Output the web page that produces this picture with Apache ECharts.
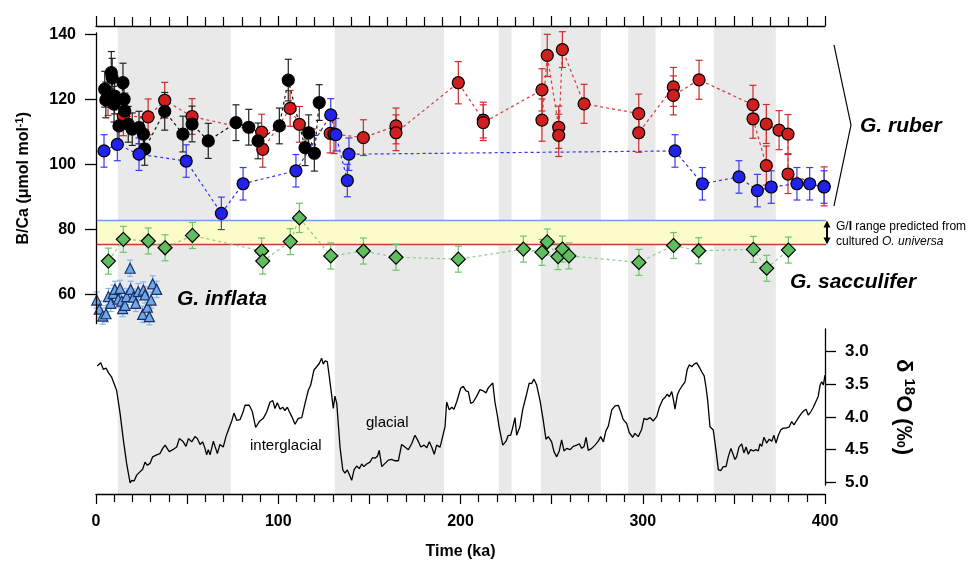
<!DOCTYPE html>
<html><head><meta charset="utf-8">
<script src="https://cdn.jsdelivr.net/npm/echarts@6/dist/echarts.min.js"></script>
<style>html,body{margin:0;padding:0;background:#fff}#c{width:972px;height:565px}</style>
</head><body><div id="c"></div>
<script>
// ---------- tick labels ----------
const timeTicks = [0, 100, 200, 300, 400];
const bcaTicks = [60, 80, 100, 120, 140];
const d18oTicks = [3.0, 3.5, 4.0, 4.5, 5.0];

// ---------- glacial intervals (ka) ----------
const glacialBands = [[12, 74], [131, 191], [221, 228], [244, 277], [292, 307], [339, 373]];
// G/I range predicted from cultured O. universa (B/Ca)
const giRange = [75.3, 82.7];

// ---------- B/Ca series: [age ka, B/Ca, error] ----------
const rubBlack = [[4.8,123.1,5.5],[5.4,119.8,5.5],[8.4,128.2,6.5],[8.9,126.6,6],[9.9,118.5,5.5],[10.2,121,5.5],[12.6,111.8,5.5],[14.8,125.1,6],[15.4,120,5.5],[15.8,116.4,5.5],[17.7,112.3,5.5],[19.9,110.8,5],[23.6,111.3,5],[26,109.3,5],[26.7,104.7,5],[37.7,116.3,5.8],[47.7,109.3,5.5],[52.7,112.4,5.5],[61.6,107.2,5.4],[76.8,112.8,5.5],[83.8,111.4,5.5],[88.9,107.2,5.5],[100.6,111.8,5.5],[105.5,125.9,6.4],[114.7,105.1,5.5],[116.7,109.7,5.5],[119.8,103.4,5.5],[122.5,119,5.5]];
const rubRed = [[6.6,121,6],[15,114.8,6],[28.6,114.6,5.5],[37.7,119.7,5.5],[52.7,114.7,5.5],[90.9,109.9,5.5],[91.5,104.6,5.5],[106.5,117.2,5.5],[111.6,112.3,5.5],[128.5,109.5,6],[130.6,109.3,6],[146.7,108.2,5.5],[164.6,111.8,5.5],[164.6,109.7,5.5],[198.8,125.1,6.5],[212.5,113.6,5.5],[212.5,112.8,5.5],[244.7,122.9,6.5],[244.7,113.6,6.5],[247.6,133.5,6.5],[253.9,111.4,6.5],[253.9,108.9,6.5],[255.9,135.3,5.5],[267.8,118.6,6],[297.8,115.6,6],[297.8,109.7,6],[316.8,123.8,6],[316.8,121.2,6],[330.9,126,6],[360.5,118.3,6],[360.5,114,6],[367.8,99.6,6],[367.8,112.4,6],[374.8,110.5,6],[379.7,109.3,6],[379.7,97,6],[399.5,93.2,6]];
const rubBlue = [[4.4,104.1,5],[11.7,106.1,5],[23.6,103.1,5],[49.5,101,5],[68.8,84.9,5],[80.7,94,5],[109.7,98,5],[128.8,115.2,5],[131.6,109.1,5],[137.9,95,5],[138.8,103.1,5],[317.7,104.1,5],[332.7,94,5],[352.8,96.1,5],[362.9,91.9,5],[370.5,93,5],[384.6,94,5],[391.6,94,5],[399.5,93,5]];
const sacculifer = [[6.8,70.2,4],[15,76.9,4],[28.7,76.4,4],[37.9,74.3,4],[52.9,78.1,4],[90.9,73.3,4],[91.5,70.2,4],[106.6,76.2,4],[111.6,83.5,4.5],[128.8,71.8,4],[146.7,73.3,4],[164.6,71.4,4],[198.8,70.8,4],[234.5,73.9,4],[244.7,72.9,4],[247.6,76.1,4],[253.5,71.6,4],[255.9,73.9,4],[259.5,71.8,4],[297.9,69.8,4],[316.9,75,4],[330.7,73.4,4],[360.7,73.8,4],[368,68,4],[379.9,73.6,4]];
const inflata = [[0.4,58.2,2.5],[1.8,55.4,2.5],[3.7,53.3,2.5],[5.5,54,2.5],[6.8,59.3,2.5],[8.1,57.2,2.5],[9.5,60.3,2.5],[10.4,61.5,2.5],[12.2,58.5,2.5],[13.2,61.8,2.5],[14.1,57.9,2.5],[14.6,55.6,2.5],[15.9,56.6,2.5],[16.8,59.3,2.5],[18.7,68,2.5],[19,61.5,2.5],[20.5,59.1,2.5],[21.8,57.2,2.5],[23.2,60.8,2.5],[25.6,53.8,2.5],[26,61.3,2.5],[26.9,59.8,2.5],[28.2,56,2.5],[29.3,53.1,2.5],[30.2,58.2,2.5],[31.1,63.2,2.5],[33.3,61.5,2.5]];

// ---------- benthic d18O stack ----------
const d18oAge = [0.7,2.6,4,5.5,6.8,8.6,9.5,11.3,13.2,15,16.8,18.7,19.6,20.9,22.3,24.1,25.6,26.9,28.2,29.6,31.1,33.3,35.1,36.6,37.9,38.8,40.2,42.1,44.3,45.7,47.6,49.4,50.7,52.5,54.3,55.6,57.1,58.5,59.8,60.7,61.6,62.6,64.4,65.3,66.6,68,69.8,71.3,72.6,73.5,74.4,75.7,77.2,79,80.5,81.8,84.1,85.8,87.6,89.6,91.8,93.7,95.5,97,98.2,99.5,101,102.4,103.7,105,106.1,107.4,109.2,111,112.9,114.7,116.5,117.8,119.6,121.1,122.5,123.8,124.7,125.7,126.9,128,129.3,130.2,131.1,132.1,133.9,135.4,136.6,137.9,139,140.3,141.6,143,144.5,145.8,147,148.5,150.3,151.8,153.1,154.4,155.4,156.8,158.6,160.4,162.2,164.1,165.9,167.7,169.5,171.4,173.2,175,176.8,178.2,180,181.5,182.9,184.2,185.6,186.9,188.8,190.2,191.5,192.4,193.8,195.2,196.4,197.9,198.8,200.1,201.5,203,204.3,205.6,207,208.9,210.7,212.5,214,215.3,217.7,218.9,220.2,221.3,223.2,225,226.2,227.5,228.6,229.9,230.8,232.6,234.1,235.9,237.7,239,240.3,241.8,243.6,245.4,246.9,248.2,250,251.3,252.8,254.2,255.5,256.8,258.3,260.1,261.9,263.8,265.2,266.5,267.8,268.9,270.1,272,273.8,275.6,276.9,278.4,279.8,281.1,283,284.8,286.6,287.9,289.3,291.2,292.6,294.5,295.7,297.5,299.4,300.7,302.2,304,305.8,307.7,309.1,311,312.2,313.5,314.6,315.9,316.8,317.7,319,320.1,321.9,323.2,324.4,325.6,326.9,328.2,329.6,331.1,332.4,333.7,334.7,335.6,336.9,337.8,338.7,340.2,341.5,342.8,344.2,345.7,346.9,348.4,349.4,350.6,351.5,352.8,354.3,355.5,356.7,357.9,359.2,360.7,362.1,363.4,364.3,365.3,366.5,368,369.4,370.8,372,373.1,374.4,375.7,377.1,378.6,380.4,381.7,383,384.5,385.9,387.2,388.5,389.6,390.8,392.2,393.6,394.5,395.4,396.3,397.3,398.2,399.1,400];
const d18oVal = [3.22,3.17,3.27,3.25,3.32,3.39,3.37,3.59,3.94,4.35,4.71,5.01,4.97,4.98,4.89,4.84,4.80,4.69,4.74,4.71,4.61,4.58,4.56,4.48,4.43,4.42,4.53,4.50,4.46,4.33,4.37,4.45,4.33,4.38,4.30,4.33,4.42,4.38,4.48,4.58,4.50,4.58,4.37,4.45,4.56,4.42,4.46,4.30,4.20,4.21,4.07,3.94,4.05,4.04,3.94,3.82,3.82,3.92,4.16,4.07,4.02,3.92,3.77,3.75,3.87,3.78,3.88,3.85,3.90,3.85,3.92,3.99,4.11,4.02,4.01,3.79,3.59,3.51,3.28,3.23,3.18,3.10,3.19,3.14,3.15,3.38,3.66,3.87,3.68,3.79,4.46,4.81,4.86,4.81,4.88,4.97,4.81,4.75,4.79,4.72,4.76,4.72,4.69,4.62,4.63,4.60,4.51,4.76,4.71,4.66,4.65,4.67,4.67,4.42,4.46,4.50,4.41,4.28,4.37,4.46,4.43,4.47,4.38,4.46,4.57,4.43,4.46,4.30,4.15,3.77,3.89,3.85,3.88,3.77,3.79,3.56,3.53,3.60,3.61,3.79,3.77,3.68,3.58,3.60,3.63,3.55,3.48,3.77,3.97,4.17,4.43,4.37,4.28,4.28,4.17,4.01,4.28,4.15,3.89,3.69,3.48,3.49,3.42,3.51,3.74,4.05,4.34,4.30,4.38,4.53,4.61,4.52,4.35,4.52,4.48,4.50,4.45,4.43,4.41,4.48,4.45,4.31,4.51,4.48,4.43,4.37,4.30,4.38,4.21,4.14,3.89,3.83,3.82,3.92,4.04,4.10,4.24,4.31,4.25,4.30,4.19,4.02,4.04,4.01,4.06,3.99,3.85,3.73,3.70,3.65,3.69,3.61,3.73,3.88,3.66,3.59,3.51,3.46,3.27,3.20,3.23,3.19,3.17,3.24,3.31,3.37,3.54,3.74,4.15,4.17,4.20,4.51,4.81,4.82,4.76,4.76,4.61,4.48,4.56,4.65,4.61,4.46,4.41,4.55,4.46,4.57,4.50,4.52,4.50,4.52,4.41,4.45,4.31,4.40,4.34,4.37,4.28,4.40,4.28,4.20,4.17,4.17,4.15,4.07,4.12,4.05,3.99,3.94,3.90,3.88,3.97,3.92,3.85,3.88,3.74,3.68,3.51,3.46,3.51,3.36];

// ---------- chart ----------
const FONT = '"Liberation Sans", Arial, Helvetica, sans-serif';
const L = 96, R = 147;
const chart = echarts.init(document.getElementById('c'), null, {renderer: 'canvas'});

function errSeries(data, color, cap, z) {
  return {
    type: 'custom', xAxisIndex: 2, yAxisIndex: 1, z: z, clip: false, silent: true,
    data: data, encode: {x: 0, y: 1},
    renderItem: function (p, api) {
      const x = api.value(0), y = api.value(1), e = api.value(2);
      const t = api.coord([x, y + e]), b = api.coord([x, y - e]);
      const h = cap / 2, st = {stroke: color, lineWidth: 1.2};
      return {type: 'group', children: [
        {type: 'line', shape: {x1: t[0], y1: t[1], x2: b[0], y2: b[1]}, style: st},
        {type: 'line', shape: {x1: t[0] - h, y1: t[1], x2: t[0] + h, y2: t[1]}, style: st},
        {type: 'line', shape: {x1: b[0] - h, y1: b[1], x2: b[0] + h, y2: b[1]}, style: st}
      ]};
    }
  };
}
function lineSeries(data, color, z) {
  return {type: 'line', xAxisIndex: 2, yAxisIndex: 1, data: data.map(d => [d[0], d[1]]),
    symbol: 'none', lineStyle: {color: color, width: 1.2, type: [3, 3]}, z: z, silent: true};
}
function markSeries(data, symbol, size, fill, border, z) {
  return {type: 'scatter', xAxisIndex: 2, yAxisIndex: 1, data: data.map(d => [d[0], d[1]]),
    symbol: symbol, symbolSize: size, clip: false,
    itemStyle: {color: fill, borderColor: border, borderWidth: 1.2, opacity: 1}, z: z, silent: true};
}

const axisLineStyle = {show: true, onZero: false, lineStyle: {color: '#000', width: 1.3}};
const option = {
  animation: false,
  backgroundColor: '#fff',
  textStyle: {fontFamily: FONT},
  grid: [
    {left: L, right: R, top: 26, bottom: 71},
    {left: L, right: R, top: 33, bottom: 241.5},
    {left: L, right: R, top: 329, bottom: 80}
  ],
  xAxis: [
    {gridIndex: 0, type: 'value', min: 0, max: 400, interval: 50, position: 'bottom', z: 5,
      axisLine: axisLineStyle,
      axisTick: {show: true, inside: false, length: 10, lineStyle: {color: '#000', width: 1.2}},
      minorTick: {show: true, splitNumber: 5, length: 8, lineStyle: {color: '#000', width: 1.2}},
      splitLine: {show: false}, minorSplitLine: {show: false},
      axisLabel: {customValues: timeTicks, margin: 20, color: '#000', fontWeight: 'bold', fontSize: 16, fontFamily: FONT},
      name: 'Time (ka)', nameLocation: 'middle', nameGap: 50,
      nameTextStyle: {color: '#000', fontWeight: 'bold', fontSize: 16, fontFamily: FONT}},
    {gridIndex: 0, type: 'value', min: 0, max: 400, interval: 50, position: 'top', z: 5,
      axisLine: axisLineStyle,
      axisTick: {show: true, inside: false, length: 10, lineStyle: {color: '#000', width: 1.2}},
      minorTick: {show: true, splitNumber: 5, length: 9, lineStyle: {color: '#000', width: 1.2}},
      splitLine: {show: false}, axisLabel: {show: false}},
    {gridIndex: 1, type: 'value', min: 0, max: 400, show: false},
    {gridIndex: 2, type: 'value', min: 0, max: 400, show: false}
  ],
  yAxis: [
    {gridIndex: 0, type: 'value', min: 0, max: 1, show: false},
    {gridIndex: 1, type: 'value', min: 51, max: 140.4, position: 'left', z: 5,
      axisLine: axisLineStyle,
      axisTick: {show: true, inside: false, length: 11, customValues: bcaTicks, lineStyle: {color: '#000', width: 1.3}},
      axisLabel: {customValues: bcaTicks, margin: 20, color: '#000', fontWeight: 'bold', fontSize: 16, fontFamily: FONT},
      splitLine: {show: false},
      name: 'B/Ca (\u03bcmol mol{s|-1})', nameLocation: 'middle', nameGap: 62, nameRotate: 90,
      nameTextStyle: {color: '#000', fontWeight: 'bold', fontSize: 16, fontFamily: FONT, lineHeight: 20,
        rich: {s: {fontSize: 11, fontWeight: 'bold', fontFamily: FONT, color: '#000', verticalAlign: 'top', lineHeight: 12}}}},
    {gridIndex: 2, type: 'value', min: 2.652, max: 5.041, inverse: true, position: 'right', z: 5,
      axisLine: axisLineStyle,
      axisTick: {show: true, inside: false, length: 11, customValues: d18oTicks, lineStyle: {color: '#000', width: 1.3}},
      axisLabel: {customValues: d18oTicks, margin: 20, color: '#000', fontWeight: 'bold', fontSize: 17, fontFamily: FONT,
        formatter: v => Number(v).toFixed(1)},
      splitLine: {show: false},
      name: '{a|\u03b4 }{s|18}{a|O (\u2030)}', nameLocation: 'middle', nameGap: 64, nameRotate: -90,
      nameTextStyle: {color: '#000', fontWeight: 'bold', fontSize: 22, fontFamily: FONT,
        rich: {a: {fontSize: 22, fontWeight: 'bold', fontFamily: FONT, color: '#000', lineHeight: 28},
               s: {fontSize: 15, fontWeight: 'bold', fontFamily: FONT, color: '#000', verticalAlign: 'top', lineHeight: 16}}}}
  ],
  graphic: [
    {type: 'polyline', shape: {points: [[834, 45], [851, 125], [834, 206]]}, style: {stroke: '#000', lineWidth: 1.2, fill: null}, z: 10},
    {type: 'text', x: 860, y: 126, style: {text: 'G. ruber', fontSize: 21, fontWeight: 'bold', fontStyle: 'italic', fontFamily: FONT, fill: '#000', verticalAlign: 'middle'}, z: 10},
    {type: 'text', x: 790, y: 282, style: {text: 'G. sacculifer', fontSize: 21, fontWeight: 'bold', fontStyle: 'italic', fontFamily: FONT, fill: '#000', verticalAlign: 'middle'}, z: 10},
    {type: 'text', x: 177, y: 299, style: {text: 'G. inflata', fontSize: 21, fontWeight: 'bold', fontStyle: 'italic', fontFamily: FONT, fill: '#000', verticalAlign: 'middle'}, z: 10},
    {type: 'text', x: 250, y: 446, style: {text: 'interglacial', fontSize: 15, fontFamily: FONT, fill: '#000', verticalAlign: 'middle'}, z: 10},
    {type: 'text', x: 366, y: 423, style: {text: 'glacial', fontSize: 15, fontFamily: FONT, fill: '#000', verticalAlign: 'middle'}, z: 10},
    {type: 'text', x: 836, y: 219, style: {
      text: '{n|G/}{b|I}{n| range predicted from}\n{n|cultured }{i|O. universa}',
      fontFamily: FONT, fontSize: 12, fill: '#000', lineHeight: 15, verticalAlign: 'top',
      rich: {n: {fontSize: 12, fontFamily: FONT, lineHeight: 15}, b: {fontSize: 12, fontWeight: 'bold', fontFamily: FONT, lineHeight: 15},
             i: {fontSize: 12, fontStyle: 'italic', fontFamily: FONT, lineHeight: 15}}}, z: 10}
  ],
  series: [
    // glacial bands
    {type: 'custom', xAxisIndex: 0, yAxisIndex: 0, z: 0, silent: true, data: glacialBands,
      renderItem: function (p, api) {
        const a = api.coord([api.value(0), 1]), b = api.coord([api.value(1), 0]);
        return {type: 'rect', shape: {x: a[0], y: a[1], width: b[0] - a[0], height: b[1] - a[1]}, style: {fill: '#e9e9e9'}};
      }},
    // G/I range band
    {type: 'custom', xAxisIndex: 2, yAxisIndex: 1, z: 1, silent: true, clip: false, data: [[0, giRange[0], 400, giRange[1]]],
      renderItem: function (p, api) {
        const a = api.coord([api.value(0), api.value(3)]), b = api.coord([api.value(2), api.value(1)]);
        return {type: 'group', children: [
          {type: 'rect', shape: {x: a[0], y: a[1], width: b[0] - a[0], height: b[1] - a[1]}, style: {fill: '#fbfcc9'}},
          {type: 'line', shape: {x1: a[0], y1: a[1], x2: b[0] + 1, y2: a[1]}, style: {stroke: '#6e9ef2', lineWidth: 1.6}},
          {type: 'line', shape: {x1: a[0], y1: b[1], x2: b[0] + 1, y2: b[1]}, style: {stroke: '#c83a3a', lineWidth: 1.6}}
        ]};
      }},
    // double arrow
    {type: 'custom', xAxisIndex: 2, yAxisIndex: 1, z: 10, silent: true, clip: false, data: [[400, giRange[0], giRange[1]]],
      renderItem: function (p, api) {
        const t = api.coord([api.value(0), api.value(2)]), b = api.coord([api.value(0), api.value(1)]);
        const x = t[0] + 2;
        return {type: 'group', children: [
          {type: 'line', shape: {x1: x, y1: t[1] + 4, x2: x, y2: b[1] - 4}, style: {stroke: '#000', lineWidth: 2}},
          {type: 'polygon', shape: {points: [[x, t[1]], [x - 3.5, t[1] + 7], [x + 3.5, t[1] + 7]]}, style: {fill: '#000'}},
          {type: 'polygon', shape: {points: [[x, b[1]], [x - 3.5, b[1] - 7], [x + 3.5, b[1] - 7]]}, style: {fill: '#000'}}
        ]};
      }},
    // d18O
    {type: 'line', xAxisIndex: 3, yAxisIndex: 2, data: d18oAge.map((a, i) => [a, d18oVal[i]]), symbol: 'none',
      lineStyle: {color: '#000', width: 1.3}, z: 3, silent: true},
    // G. sacculifer
    lineSeries(sacculifer, '#86cf86', 2),
    errSeries(sacculifer, '#6cc46c', 7, 2),
    markSeries(sacculifer, 'diamond', 14, '#5fbd5f', '#000', 3),
    // G. inflata
    errSeries(inflata, '#86b6ec', 6, 2),
    markSeries(inflata, 'triangle', 10, '#6fa8e8', '#1c2f66', 3),
    // red
    lineSeries(rubRed, '#d43a3a', 2),
    errSeries(rubRed, '#d02a2a', 7, 2),
    markSeries(rubRed, 'circle', 12, '#d01f1f', '#000', 3),
    // black
    lineSeries(rubBlack, '#111', 2),
    errSeries(rubBlack, '#222', 7, 2),
    markSeries(rubBlack, 'circle', 12, '#000', '#000', 3),
    // blue
    lineSeries(rubBlue, '#3030f5', 2),
    errSeries(rubBlue, '#3a3af5', 7, 2),
    markSeries(rubBlue, 'circle', 12, '#2222ee', '#000', 3)
  ]
};
chart.setOption(option);
</script></body></html>
